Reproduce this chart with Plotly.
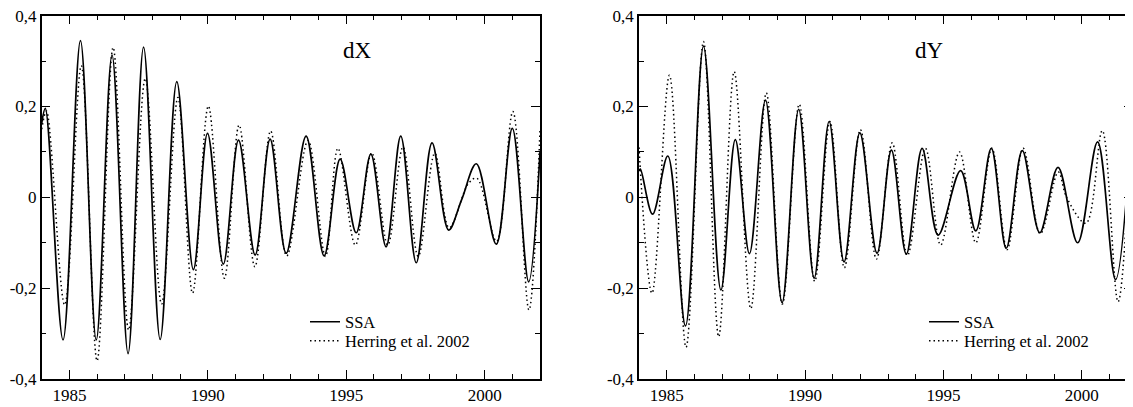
import plotly.graph_objects as go

# ---- data (extrema and a few edge/shoulder points) ----
dx_ssa_t = [1984.0, 1984.13, 1984.77, 1985.40, 1985.97, 1986.54, 1987.12, 1987.68, 1988.28,
            1988.88, 1989.48, 1989.99, 1990.56, 1991.11, 1991.71, 1992.25, 1992.83, 1993.55,
            1994.20, 1994.78, 1995.36, 1995.89, 1996.44, 1996.97, 1997.53, 1998.10, 1998.70,
            1999.17, 1999.70, 2000.42, 2001.00, 2001.59, 2002.0]
dx_ssa_v = [0.163, 0.196, -0.314, 0.345, -0.314, 0.313, -0.344, 0.331, -0.313,
            0.255, -0.159, 0.141, -0.147, 0.126, -0.127, 0.128, -0.123, 0.135,
            -0.129, 0.084, -0.078, 0.095, -0.109, 0.135, -0.144, 0.120, -0.072,
            -0.005, 0.074, -0.103, 0.152, -0.186, 0.10]

dx_her_t = [1984.0, 1984.17, 1984.83, 1985.43, 1986.0, 1986.58, 1987.14, 1987.74, 1988.33,
            1988.92, 1989.45, 1990.02, 1990.60, 1991.13, 1991.70, 1992.27, 1992.85, 1993.62,
            1994.25, 1994.70, 1995.33, 1995.92, 1996.50, 1997.05, 1997.60, 1998.20, 1998.72,
            1999.42, 1999.72, 2000.43, 2001.02, 2001.60, 2002.0]
dx_her_v = [0.15, 0.19, -0.237, 0.29, -0.36, 0.33, -0.292, 0.262, -0.235,
            0.22, -0.211, 0.201, -0.178, 0.159, -0.153, 0.146, -0.129, 0.125,
            -0.13, 0.108, -0.105, 0.098, -0.105, 0.111, -0.13, 0.097, -0.067,
            0.031, 0.042, -0.097, 0.189, -0.248, 0.15]

dy_ssa_t = [1984.0, 1984.05, 1984.49, 1985.04, 1985.68, 1986.33, 1986.96, 1987.48, 1987.99,
            1988.57, 1989.17, 1989.77, 1990.33, 1990.87, 1991.41, 1991.98, 1992.60, 1993.12,
            1993.66, 1994.23, 1994.81, 1995.62, 1996.17, 1996.73, 1997.27, 1997.85, 1998.48,
            1999.14, 1999.85, 2000.57, 2001.22, 2001.85]
dy_ssa_v = [0.058, 0.062, -0.037, 0.091, -0.283, 0.333, -0.204, 0.127, -0.124,
            0.214, -0.232, 0.194, -0.178, 0.167, -0.142, 0.142, -0.123, 0.104,
            -0.125, 0.108, -0.083, 0.059, -0.074, 0.108, -0.112, 0.103, -0.078,
            0.066, -0.10, 0.122, -0.181, 0.212]

dy_her_t = [1984.0, 1984.47, 1985.10, 1985.70, 1986.33, 1986.88, 1987.44, 1988.04, 1988.60,
            1989.18, 1989.79, 1990.35, 1990.90, 1991.42, 1992.00, 1992.58, 1993.15, 1993.70,
            1994.35, 1994.90, 1995.58, 1996.17, 1996.75, 1997.30, 1997.88, 1998.50, 1999.15,
            1999.45, 2000.15, 2000.74, 2001.31, 2001.85]
dy_her_v = [0.11, -0.211, 0.269, -0.33, 0.343, -0.307, 0.277, -0.245, 0.23,
            -0.235, 0.205, -0.185, 0.167, -0.155, 0.149, -0.136, 0.12, -0.128,
            0.108, -0.105, 0.10, -0.10, 0.108, -0.115, 0.108, -0.08, 0.056,
            0.0, -0.057, 0.147, -0.23, 0.245]

series_names = ["SSA", "Herring et al. 2002"]
panel_titles = ["dX", "dY"]
y_tickvals = [-0.4, -0.2, 0, 0.2, 0.4]
y_ticktext = ["-0,4", "-0,2", "0", "0,2", "0,4"]
x_tickvals = [1985, 1990, 1995, 2000]
x_ticktext = ["1985", "1990", "1995", "2000"]

FONT = "Liberation Serif, Times New Roman, serif"
OFF = 8  # the page body margin shifts the figure by 8 px
W, H = 1133 - OFF, 407 - OFF


def fx(px):
    return (px - OFF) / W


def fy(py):
    return (H - (py - OFF)) / H


solid = dict(color="black", width=1.7, shape="spline", smoothing=1.0)
dotted = dict(color="black", width=1.5, dash="1.5px,3px", shape="spline", smoothing=1.0)

fig = go.Figure()
fig.add_trace(go.Scatter(x=dx_ssa_t, y=dx_ssa_v, mode="lines", line=solid, name=series_names[0],
                         xaxis="x", yaxis="y", legend="legend"))
fig.add_trace(go.Scatter(x=dx_her_t, y=dx_her_v, mode="lines", line=dotted, name=series_names[1],
                         xaxis="x", yaxis="y", legend="legend2"))
fig.add_trace(go.Scatter(x=dy_ssa_t, y=dy_ssa_v, mode="lines", line=solid, name=series_names[0],
                         xaxis="x2", yaxis="y2", legend="legend3"))
fig.add_trace(go.Scatter(x=dy_her_t, y=dy_her_v, mode="lines", line=dotted, name=series_names[1],
                         xaxis="x2", yaxis="y2", legend="legend4"))

TICKFONT = dict(family=FONT, size=17, color="black")


def xax(domain, rng, anchor):
    return dict(domain=domain, range=rng, anchor=anchor, automargin=False,
                tickmode="array", tickvals=x_tickvals, ticktext=x_ticktext,
                ticks="inside", ticklen=9, tickwidth=1.3, tickcolor="black",
                showline=True, linecolor="black", linewidth=1.5, mirror="ticks",
                showgrid=False, zeroline=False, ticklabeloverflow="allow",
                minor=dict(tickmode="linear", tick0=1984, dtick=1, ticks="inside", ticklen=5,
                           tickwidth=1, tickcolor="black", showgrid=False),
                tickfont=TICKFONT)


def yax(domain, anchor):
    return dict(domain=domain, range=[-0.4, 0.4], anchor=anchor, automargin=False,
                tickmode="array", tickvals=y_tickvals, ticktext=y_ticktext,
                ticks="inside", ticklen=9, tickwidth=1.3, tickcolor="black",
                showline=True, linecolor="black", linewidth=1.5, mirror="ticks",
                showgrid=False, zeroline=False, ticklabeloverflow="allow",
                minor=dict(tickmode="linear", tick0=0, dtick=0.1, ticks="inside", ticklen=5,
                           tickwidth=1, tickcolor="black", showgrid=False),
                tickfont=TICKFONT)


ydom = [fy(379), fy(15.7)]
leg = dict(font=dict(family=FONT, size=16.5, color="black"), bgcolor="rgba(0,0,0,0)",
           borderwidth=0, tracegroupgap=0, itemwidth=30, xanchor="left", yanchor="middle")

fig.update_layout(
    template="none",
    width=W, height=H,
    margin=dict(l=0, r=0, t=0, b=0, autoexpand=False),
    paper_bgcolor="white", plot_bgcolor="white",
    xaxis=xax([fx(41.7), fx(540)], [1984, 2002], "y"),
    yaxis=yax(ydom, "x"),
    xaxis2=xax([fx(639), 1.0], [1984, 2001.85], "y2"),
    yaxis2=yax(ydom, "x2"),
    legend=dict(leg, x=fx(305), y=fy(322)),
    legend2=dict(leg, x=fx(305), y=fy(341)),
    legend3=dict(leg, x=fx(924), y=fy(322)),
    legend4=dict(leg, x=fx(924), y=fy(341)),
    annotations=[
        dict(text=panel_titles[0], x=1995.4, y=0.324, xref="x", yref="y", showarrow=False,
             font=dict(family=FONT, size=23, color="black")),
        dict(text=panel_titles[1], x=1994.5, y=0.324, xref="x2", yref="y2", showarrow=False,
             font=dict(family=FONT, size=23, color="black")),
    ],
    showlegend=True,
)

fig.write_html("out.html")
